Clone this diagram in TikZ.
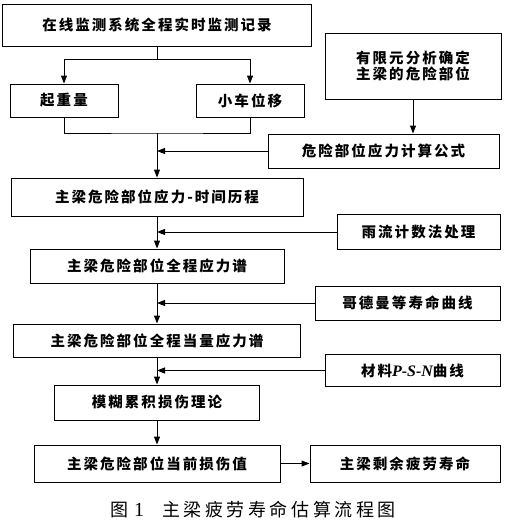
\documentclass[tikz,border=0pt]{standalone}
\usepackage{fontspec}
\newfontfamily\hei[LetterSpace=14]{Noto Sans CJK SC}
\newfontfamily\capfont[LetterSpace=20]{Noto Sans CJK SC}
\newfontfamily\timesfont{Liberation Serif}
\usetikzlibrary{arrows.meta,positioning}

\begin{document}
\begin{tikzpicture}[x=1pt,y=-1pt,
  box/.style={draw=cline,line width=1pt,inner sep=0pt,text=ctext,
    font=\hei\bfseries\fontsize{14.5}{16}\selectfont,align=center},
  flow/.style={-{Triangle[length=8pt,width=6pt]},line width=1pt,draw=cline},
  line/.style={line width=1pt,draw=cline}]
%
\useasboundingbox (0,0) rectangle (512,530);
%
\definecolor{cline}{rgb}{0.0,0.0,0.0}
\definecolor{ctext}{rgb}{0.0,0.0,0.0}
%
\node[box,minimum width=309pt,minimum height=42pt] (jc) at (157,25) {在线监测系统全程实时监测记录};
\node[box,minimum width=108pt,minimum height=33pt] (qz) at (64,100.5) {起重量};
\node[box,minimum width=108pt,minimum height=33pt] (xc) at (250,100.5) {小车位移};
\node[box,minimum width=176pt,minimum height=66pt] (yxy) at (413,66) {有限元分析确定\\主梁的危险部位};
\node[box,minimum width=231pt,minimum height=34pt] (gs) at (383.5,151) {危险部位应力计算公式};
\node[box,minimum width=292pt,minimum height=38pt] (sj) at (157,197) {主梁危险部位应力-时间历程};
\node[box,minimum width=163pt,minimum height=35pt] (yl) at (418.5,232) {雨流计数法处理};
\node[box,minimum width=254pt,minimum height=34pt] (ylp) at (157,266) {主梁危险部位全程应力谱};
\node[box,minimum width=185pt,minimum height=34pt] (gdm) at (407.5,303) {哥德曼等寿命曲线};
\node[box,minimum width=287pt,minimum height=33pt] (dl) at (157,340.5) {主梁危险部位全程当量应力谱};
\node[box,minimum width=175pt,minimum height=32pt] (psn) at (412.5,370.5) {材料{\timesfont\bfseries\itshape\fontsize{16}{16}\selectfont P-S-N}曲线};
\node[box,minimum width=205pt,minimum height=35pt] (mh) at (157,402.5) {模糊累积损伤理论};
\node[box,minimum width=246pt,minimum height=37pt] (ss) at (157,463.5) {主梁危险部位当前损伤值};
\node[box,minimum width=190pt,minimum height=37pt] (sm) at (405,463.5) {主梁剩余疲劳寿命};
%
\node[text=ctext,font=\capfont\fontsize{18}{20}\selectfont] (cap) at (253,510)
  {图\hspace{6pt}{\timesfont\fontsize{20}{20}\selectfont 1}\hspace{18pt}主梁疲劳寿命估算流程图};
%
\coordinate[below=13pt of jc.south] (fk);
\coordinate (hb) at (157,133);
%
\draw[line] (jc.south) -- (fk);
\draw[flow] (fk) -| (qz.north);
\draw[flow] (fk) -| (xc.north);
\draw[line] (qz.south) |- (hb) -| (xc.south);
\draw[flow] (hb) -- (sj.north);
\draw[flow] (yxy.south) -- (yxy.south |- gs.north);
\draw[flow] (gs.west) -- (gs.west -| hb);
\draw[flow] (sj.south) -- (ylp.north);
\draw[flow] (yl.west) -- (yl.west -| sj.south);
\draw[flow] (ylp.south) -- (dl.north);
\draw[flow] (gdm.west) -- (gdm.west -| ylp.south);
\draw[flow] (dl.south) -- (mh.north);
\draw[flow] (psn.west) -- (psn.west -| dl.south);
\draw[flow] (mh.south) -- (ss.north);
\draw[flow] (ss.east) -- (sm.west);
%
\end{tikzpicture}
\end{document}
